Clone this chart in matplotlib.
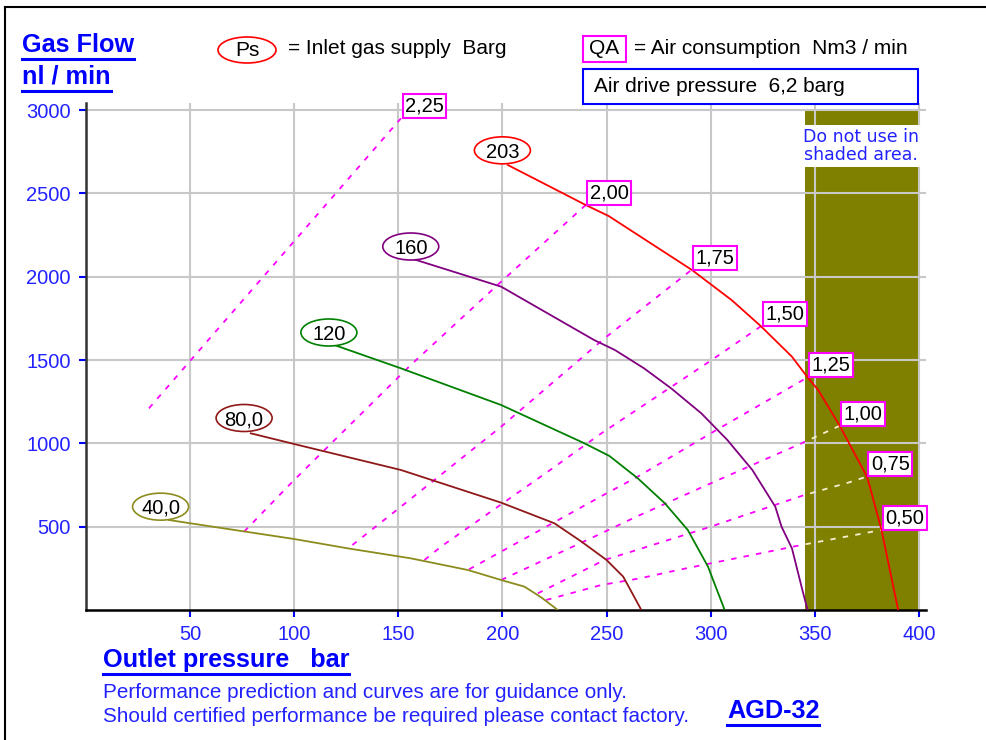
import matplotlib
matplotlib.use("Agg")
import matplotlib.pyplot as plt
from matplotlib.patches import Ellipse, Rectangle
from matplotlib.lines import Line2D

plt.rcParams['font.family'] = ['Liberation Sans', 'DejaVu Sans']

# Ps curves (inlet gas supply, barg): outlet pressure vs gas flow
ps_labels = ['203', '160', '120', '80,0', '40,0']
ps_colors = ['#ff0000', '#800080', '#008000', '#901818', '#8c8c1e']
ps_label_pos = [(200, 2758), (156, 2181), (116.7, 1665), (76, 1152), (35.9, 620)]
ps_x = [
    [202.6, 240, 251, 291, 310, 324, 339, 346.5, 351.6, 362, 375, 376.4, 382, 390],
    [157.6, 199.4, 244, 254, 268, 281, 295.5, 308, 320, 331, 334, 339, 343.6, 346.5],
    [119.3, 151.3, 199.4, 239.4, 251.4, 265, 278, 289, 298.7, 306.7],
    [79.2, 100, 151.3, 199.4, 225, 238, 250, 258, 266.7],
    [39.9, 50.3, 100, 125.7, 156, 183.4, 199.4, 210.6, 218.6, 226.6],
]
ps_y = [
    [2670, 2430, 2364, 2040, 1860, 1704, 1520, 1396, 1320, 1104, 800, 740, 480, 0],
    [2104, 1940, 1620, 1560, 1450, 1330, 1180, 1020, 840, 620, 500, 370, 140, 0],
    [1590, 1450, 1230, 1000, 924, 790, 640, 480, 260, 0],
    [1060, 996, 840, 644, 520, 410, 300, 200, 0],
    [540, 520, 426, 370, 310, 240, 180, 140, 76, 0],
]

# QA lines (air consumption, Nm3/min)
qa_labels = ['2,25', '2,00', '1,75', '1,50', '1,25', '1,00', '0,75', '0,50']
qa_x = [
    [30.3, 151.3],
    [76, 100, 156, 199.4, 240],
    [128, 151.3, 199.4, 249, 290.7],
    [162.6, 170.5, 221.8, 247.5, 300, 324.3],
    [184, 250, 265, 300, 346.5],
    [199.4, 247.5, 264.3, 300, 343.6, 361.7],
    [217, 249, 266, 300, 345, 366, 374.9],
    [221, 247.5, 266, 284.3, 310, 343.6, 382],
]
qa_y = [
    [1210, 2950],
    [470, 780, 1470, 1970, 2430],
    [390, 620, 1100, 1630, 2040],
    [300, 380, 830, 1060, 1496, 1704],
    [244, 700, 800, 1060, 1396],
    [180, 460, 560, 760, 1000, 1104],
    [100, 300, 366, 500, 690, 764, 800],
    [60, 150, 190, 240, 305, 390, 480],
]

x_ticks = [50, 100, 150, 200, 250, 300, 350, 400]
y_ticks = [500, 1000, 1500, 2000, 2500, 3000]
shade_x = (345.2, 400)

W, H = 987, 740
BLUE = '#2222ff'
MAGENTA = '#ff00ff'


def fx(px):
    return px / W


def fy(py):
    return 1 - py / H


fig = plt.figure(figsize=(W / 100, H / 100), dpi=100)
ax = fig.add_axes([fx(85.8), fy(610), (926.3 - 85.8) / W, 507 / H])
ax.set_xlim(0, 403.5)
ax.set_ylim(0, 3042)

ax.set_xticks(x_ticks)
ax.set_yticks(y_ticks)
ax.tick_params(direction='out', length=5, width=1.5, color='blue',
               labelcolor=BLUE, labelsize=14.5, pad=6)
ax.grid(True, color='#c8c8c8', lw=1.5, zorder=1)
ax.set_axisbelow(True)
for s in ['top', 'right']:
    ax.spines[s].set_visible(False)
ax.spines['bottom'].set_linewidth(1.8)
ax.spines['left'].set_linewidth(1.8)
ax.spines['left'].set_color('#333333')

# shaded area
ax.add_patch(Rectangle((shade_x[0], 0), shade_x[1] - shade_x[0], 3000,
                       fc='#808000', ec='none', zorder=0.5))
ax.text(372, 2784, 'Do not use in\nshaded area.', family='DejaVu Sans', fontsize=12.5,
        color=BLUE, ha='center', va='center', linespacing=1.05, zorder=6,
        bbox=dict(fc='white', ec='none', pad=2))

clip_out = Rectangle((0, 0), shade_x[0], 3100, transform=ax.transData)
clip_in = Rectangle((shade_x[0], 0), 60, 3100, transform=ax.transData)

for xs, ys, lbl in zip(qa_x, qa_y, qa_labels):
    ln, = ax.plot(xs, ys, color=MAGENTA, lw=1.3, ls=(0, (3, 4)), zorder=3)
    ln.set_clip_path(clip_out)
    ln2, = ax.plot(xs, ys, color='#f4f0d0', lw=1.3, ls=(0, (3, 4)), zorder=3)
    ln2.set_clip_path(clip_in)
    ax.annotate(lbl, (xs[-1], ys[-1]), xytext=(3, 2), textcoords='offset points',
                ha='left', va='bottom', fontsize=14.5, color='black', zorder=7,
                bbox=dict(boxstyle='square,pad=0.12', fc='white', ec=MAGENTA, lw=1.5))

ell_w = 56 / 2.083
ell_h = 27 * 6
for xs, ys, c, lbl, pos in zip(ps_x, ps_y, ps_colors, ps_labels, ps_label_pos):
    ax.plot(xs, ys, color=c, lw=1.3, zorder=4)
    ax.add_patch(Ellipse(pos, ell_w, ell_h, fc='white', ec=c, lw=1.2, zorder=6))
    ax.text(pos[0], pos[1] - 10, lbl, ha='center', va='center', fontsize=14.5,
            color='black', zorder=7)

# figure texts
renderer = fig.canvas.get_renderer()


def underlined(px, py, s, size):
    t = fig.text(fx(px), fy(py), s, fontsize=size, fontweight='bold', color='blue',
                 ha='left', va='center')
    bb = t.get_window_extent(renderer)
    yy = bb.y0 - 2
    fig.add_artist(Line2D([bb.x0 / W, bb.x1 / W], [yy / H, yy / H], color='blue', lw=2.2))
    return t


underlined(22, 45, 'Gas Flow', 18.2)
underlined(22, 77, 'nl / min', 18.2)
underlined(103, 660, 'Outlet pressure   bar', 18.2)
underlined(727, 711, 'AGD-32', 18.2)

fig.text(fx(103), fy(692), 'Performance prediction and curves are for guidance only.',
         fontsize=14.9, color=BLUE, ha='left', va='center')
fig.text(fx(103), fy(716), 'Should certified performance be required please contact factory.',
         fontsize=14.9, color=BLUE, ha='left', va='center')

# legend at the top
fig.add_artist(Ellipse((fx(247), fy(50)), 58 / W, 26 / H, transform=fig.transFigure,
                       fc='white', ec='red', lw=1.2))
fig.text(fx(247), fy(51), 'Ps', fontsize=15, ha='center', va='center')
fig.text(fx(288), fy(49), '= Inlet gas supply  Barg', fontsize=15, ha='left', va='center')
fig.add_artist(Rectangle((fx(583), fy(62)), 43 / W, 26 / H, transform=fig.transFigure,
                         fc='white', ec=MAGENTA, lw=1.5))
fig.text(fx(604.5), fy(49), 'QA', fontsize=15, ha='center', va='center')
fig.text(fx(634), fy(49), '= Air consumption  Nm3 / min', fontsize=15, ha='left', va='center')
fig.add_artist(Rectangle((fx(583), fy(104)), 335 / W, 35 / H, transform=fig.transFigure,
                         fc='white', ec='blue', lw=1.5))
fig.text(fx(594), fy(86), 'Air drive pressure  6,2 barg', fontsize=15, ha='left', va='center')

# outer frame lines
fig.add_artist(Line2D([fx(5), 1], [fy(7), fy(7)], color='black', lw=1.5))
fig.add_artist(Line2D([fx(5), fx(5)], [fy(7), 0], color='black', lw=1.5))

fig.savefig('out.png', dpi=100)
